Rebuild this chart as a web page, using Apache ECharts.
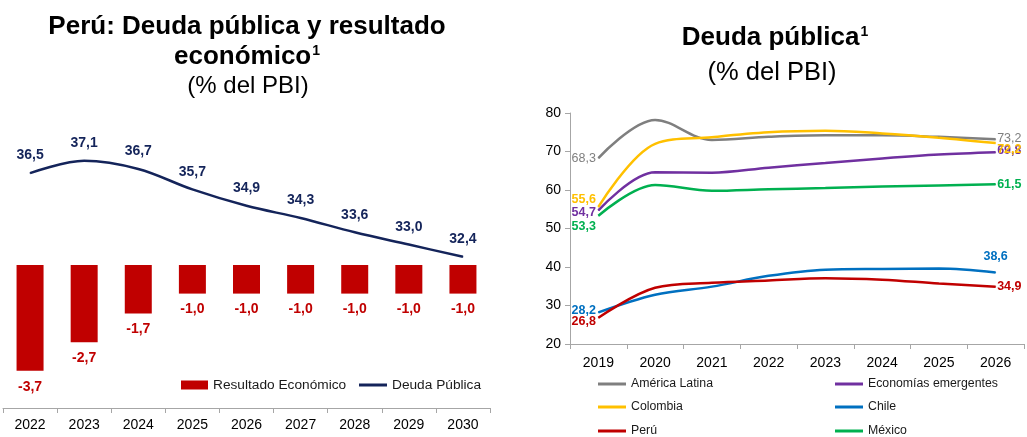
<!DOCTYPE html>
<html lang="es">
<head>
<meta charset="UTF-8">
<title>Deuda pública</title>
<style>
  html, body { margin: 0; padding: 0; background: #fff; }
  #main { width: 1027px; height: 437px; }
</style>
<script src="https://cdn.jsdelivr.net/npm/echarts@6/dist/echarts.min.js"></script>
</head>
<body>
<div id="main"></div>
<script>
// left chart: Perú
var aniosPeru = ['2022', '2023', '2024', '2025', '2026', '2027', '2028', '2029', '2030'];
var resultado = [-3.7, -2.7, -1.7, -1.0, -1.0, -1.0, -1.0, -1.0, -1.0];
var deudaPeru = [36.5, 37.1, 36.7, 35.7, 34.9, 34.3, 33.6, 33.0, 32.4];

// right chart: comparison
var anios = ['2019', '2020', '2021', '2022', '2023', '2024', '2025', '2026'];
var americaLatina = [68.3, 78.2, 73.0, 73.8, 74.2, 74.2, 73.8, 73.2];
var emergentes    = [54.7, 64.6, 64.5, 65.8, 67.0, 68.2, 69.2, 69.8];
var colombia      = [55.6, 72.0, 73.7, 75.0, 75.4, 74.7, 73.6, 72.2];
var chile         = [28.2, 32.8, 34.9, 37.7, 39.3, 39.5, 39.6, 38.6];
var peru          = [26.8, 34.6, 35.9, 36.5, 37.1, 36.7, 35.7, 34.9];
var mexico        = [53.3, 61.3, 59.8, 60.2, 60.5, 60.9, 61.2, 61.5];

var FONT = '"Liberation Sans", Arial, sans-serif';
var fmt = function (v) { return v.toFixed(1).replace('.', ','); };

var chart = echarts.init(document.getElementById('main'));

// only first and last point get a label
function endLabels(vals, color, bold, firstOffset, lastOffset, lastPos) {
  var last = vals.length - 1;
  return vals.map(function (v, i) {
    if (i !== 0 && i !== last) return v;
    return {
      value: v,
      label: {
        show: true,
        position: i === 0 ? 'left' : (lastPos || 'right'),
        distance: i === 0 ? 2 : (lastPos === 'top' ? 9 : 1),
        offset: i === 0 ? firstOffset : lastOffset,
        formatter: function (p) { return fmt(p.value); },
        color: color,
        fontWeight: bold ? 'bold' : 'normal',
        fontSize: 12.5,
        fontFamily: FONT
      }
    };
  });
}

function lineSerie(name, vals, color, bold, firstOffset, lastOffset, lastPos) {
  return {
    name: name,
    type: 'line',
    xAxisIndex: 1,
    yAxisIndex: 2,
    smooth: 0.35,
    symbol: 'circle',
    symbolSize: 1,
    showSymbol: true,
    lineStyle: { color: color, width: 2.5 },
    itemStyle: { color: color },
    z: 3,
    data: endLabels(vals, color, bold, firstOffset, lastOffset, lastPos)
  };
}

var legendText = { color: '#1a1a1a', fontSize: 12.3, fontFamily: FONT };

function rightLegend(name, left, top) {
  return {
    data: [name], left: left, top: top, icon: 'rect',
    itemWidth: 28, itemHeight: 3, itemGap: 0, padding: 0,
    textStyle: legendText, selectedMode: false
  };
}

function titleText(x, y, str, sup, size) {
  return {
    type: 'text', x: x, y: y,
    style: {
      text: sup ? '{t|' + str + '}{s|1}' : str,
      align: 'center', verticalAlign: 'middle',
      font: (sup ? 'bold ' : '') + size + 'px ' + FONT, fill: '#000',
      rich: {
        t: { fontSize: size, fontWeight: 'bold', fontFamily: FONT, fill: '#000' },
        s: { fontSize: 14, fontWeight: 'bold', fontFamily: FONT, fill: '#000', padding: [0, 0, 12, 1] }
      }
    }
  };
}

chart.setOption({
  animation: false,
  textStyle: { fontFamily: FONT },
  graphic: [
    {
      type: 'text', x: 247, y: 27,
      style: { text: 'Perú: Deuda pública y resultado', align: 'center', verticalAlign: 'middle', font: 'bold 26px ' + FONT, fill: '#000' }
    },
    titleText(247, 57, 'económico', true, 26),
    titleText(248, 86, '(% del PBI)', false, 24),
    titleText(775, 38, 'Deuda pública', true, 26),
    titleText(772, 73, '(% del PBI)', false, 25.5)
  ],
  legend: [
    { data: ['Resultado Económico'], left: 181, top: 378, icon: 'rect', itemWidth: 27, itemHeight: 9, padding: 0, textStyle: { color: '#1a1a1a', fontSize: 13.7, fontFamily: FONT }, selectedMode: false },
    { data: ['Deuda Pública'], left: 359, top: 378, icon: 'rect', itemWidth: 28, itemHeight: 3, padding: 0, textStyle: { color: '#1a1a1a', fontSize: 13.7, fontFamily: FONT }, selectedMode: false },
    rightLegend('América Latina', 598, 378),
    rightLegend('Economías emergentes', 835, 378),
    rightLegend('Colombia', 598, 401),
    rightLegend('Chile', 835, 401),
    rightLegend('Perú', 598, 425),
    rightLegend('México', 835, 425)
  ],
  grid: [
    { left: 3, width: 487, top: 122, height: 286 },
    { left: 570, width: 454, top: 113, height: 231 }
  ],
  xAxis: [
    {
      type: 'category', gridIndex: 0, data: aniosPeru,
      axisLine: { onZero: false, lineStyle: { color: '#a6a6a6', width: 1 } },
      axisTick: { show: true, length: 5, lineStyle: { color: '#a6a6a6' } },
      axisLabel: { color: '#000', fontSize: 14, margin: 10, fontFamily: FONT }
    },
    {
      type: 'category', gridIndex: 1, data: anios,
      axisLine: { onZero: false, lineStyle: { color: '#a6a6a6', width: 1 } },
      axisTick: { show: true, length: 5, lineStyle: { color: '#a6a6a6' } },
      axisLabel: { color: '#000', fontSize: 14, margin: 12, fontFamily: FONT }
    }
  ],
  yAxis: [
    { type: 'value', gridIndex: 0, min: -5, max: 5, show: false },
    { type: 'value', gridIndex: 0, min: 25, max: 39, show: false },
    {
      type: 'value', gridIndex: 1, min: 20, max: 80, interval: 10,
      axisLine: { show: true, lineStyle: { color: '#a6a6a6' } },
      axisTick: { show: true, length: 5, lineStyle: { color: '#a6a6a6' } },
      splitLine: { show: false },
      axisLabel: { color: '#000', fontSize: 14, margin: 9, fontFamily: FONT }
    }
  ],
  series: [
    {
      name: 'Resultado Económico',
      type: 'bar',
      xAxisIndex: 0, yAxisIndex: 0,
      barWidth: 27,
      itemStyle: { color: '#C00000' },
      label: {
        show: true, position: 'bottom', distance: 9,
        color: '#C00000', fontWeight: 'bold', fontSize: 14, fontFamily: FONT,
        formatter: function (p) { return fmt(p.value); }
      },
      data: resultado
    },
    {
      name: 'Deuda Pública',
      type: 'line',
      xAxisIndex: 0, yAxisIndex: 1,
      smooth: 0.35,
      symbol: 'circle',
      symbolSize: 1,
      showSymbol: true,
      lineStyle: { color: '#14245A', width: 2.5 },
      itemStyle: { color: '#14245A' },
      label: {
        show: true, position: 'top', distance: 10,
        color: '#14245A', fontWeight: 'bold', fontSize: 14, fontFamily: FONT,
        formatter: function (p) { return fmt(p.value); }
      },
      data: deudaPeru
    },
    lineSerie('América Latina', americaLatina, '#7F7F7F', false, [0, 1], [0, -1]),
    lineSerie('Economías emergentes', emergentes, '#7030A0', true, [0, 2], [0, -2]),
    lineSerie('Colombia', colombia, '#FFC000', true, [0, -7], [0, 7]),
    lineSerie('Chile', chile, '#0070C0', true, [0, -2], [0, 0], 'top'),
    lineSerie('Perú', peru, '#C00000', true, [0, 4], [0, 0]),
    lineSerie('México', mexico, '#00B050', true, [0, 11], [0, 0])
  ]
});
</script>
</body>
</html>
